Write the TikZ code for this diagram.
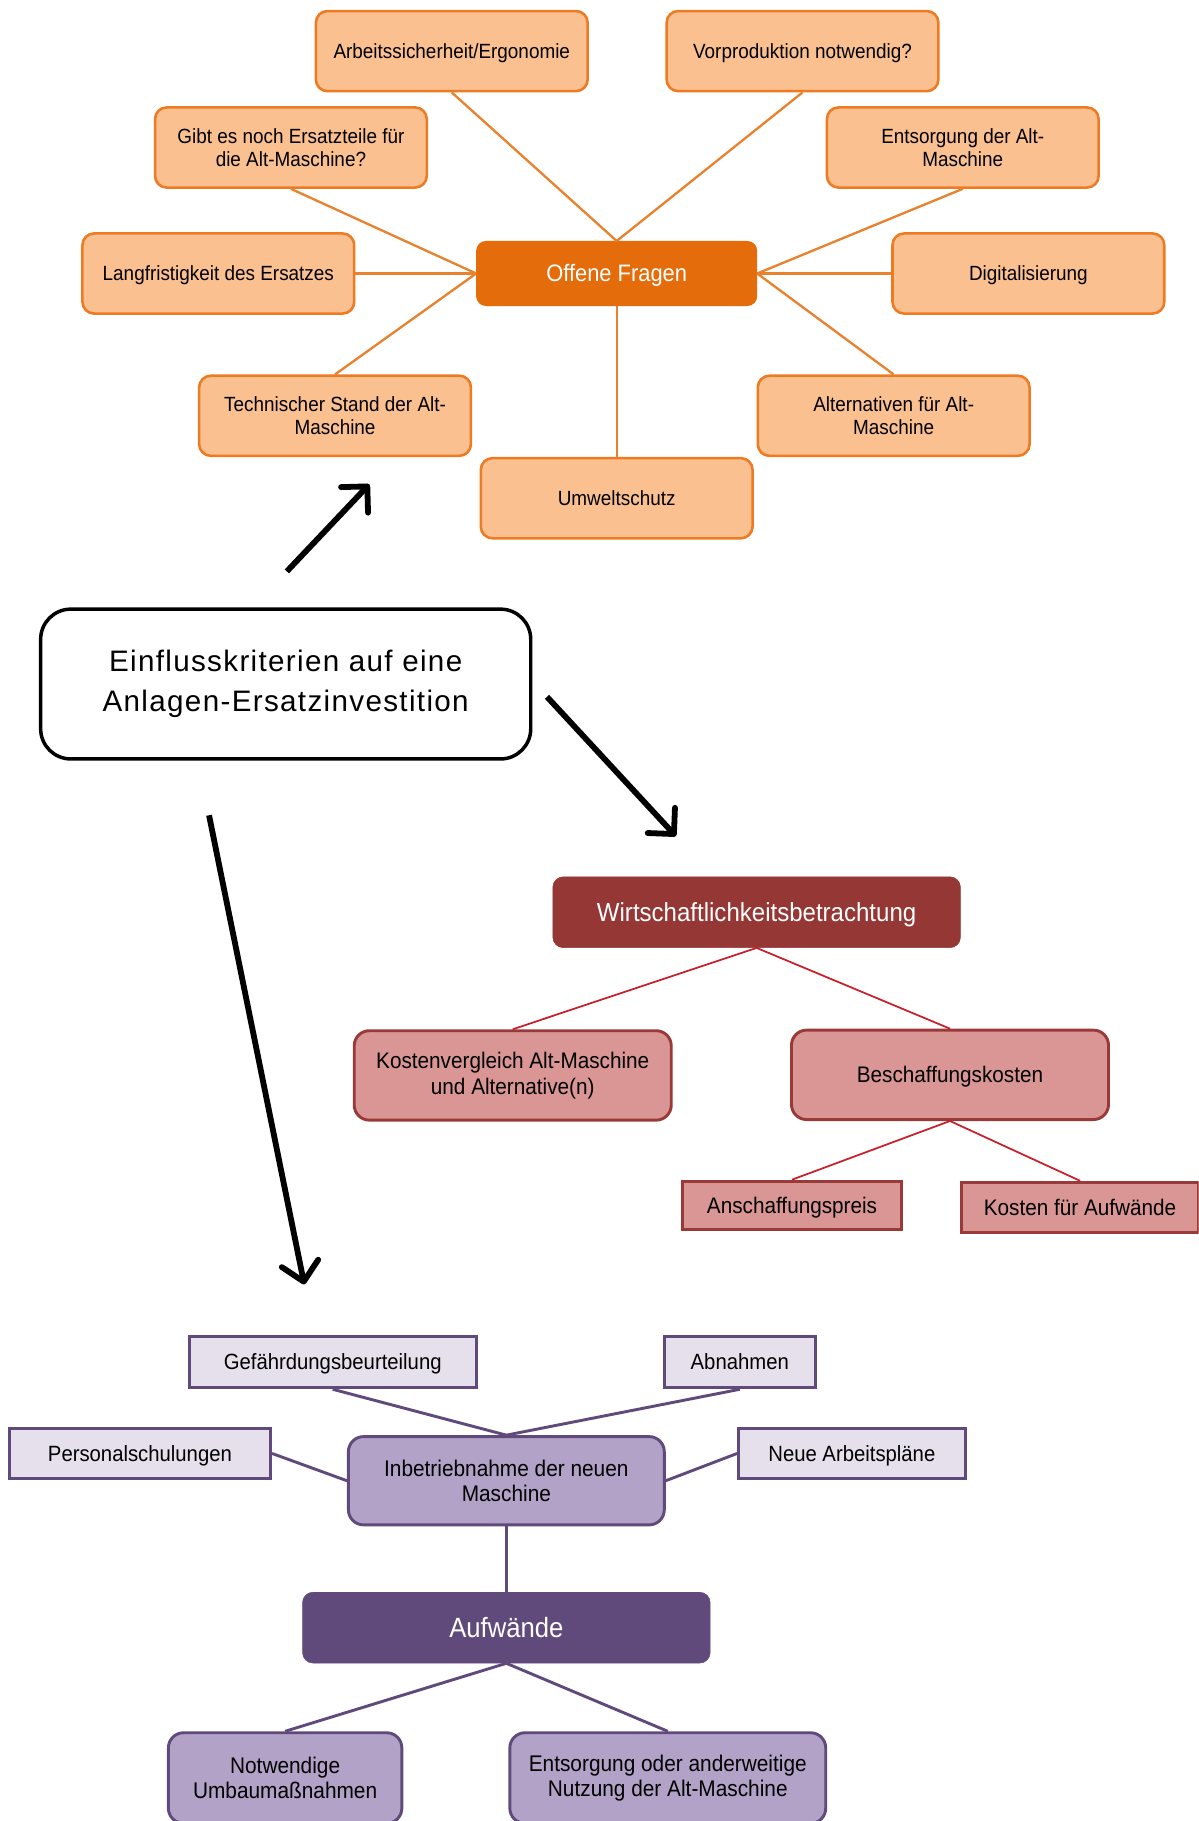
\documentclass[tikz,border=0pt]{standalone}
\usepackage{fontspec}
\setmainfont{Liberation Sans}
\newfontfamily\nar[FakeStretch=0.92]{Liberation Sans}
\newfontfamily\widefont[LetterSpace=4.5]{Liberation Sans}
\usetikzlibrary{arrows.meta}
\definecolor{olight}{HTML}{FAC090}
\definecolor{oborder}{HTML}{EE7B22}
\definecolor{odark}{HTML}{E46C0A}
\definecolor{oline}{HTML}{E8822E}
\definecolor{rdark}{HTML}{953735}
\definecolor{rlight}{HTML}{D99694}
\definecolor{rborder}{HTML}{9A3A38}
\definecolor{rline}{HTML}{C8202A}
\definecolor{pdark}{HTML}{604A7B}
\definecolor{pmid}{HTML}{B3A2C7}
\definecolor{plight}{HTML}{E6E0EC}
\tikzset{
  one/.style={execute at begin node={\rule[-0.212em]{0pt}{1.117em}}},
  obox/.style={draw=oborder, fill=olight, line width=2.2pt, rounded corners=10pt,
    minimum width=234pt, minimum height=69pt, inner sep=0pt, align=center,
    font=\nar\fontsize{17.7}{20}\selectfont},
  ocenter/.style={one, draw=odark, fill=odark, line width=1pt, rounded corners=8pt,
    minimum width=241pt, minimum height=55pt, inner sep=0pt, text=white,
    font=\nar\fontsize{20.5}{24}\selectfont},
  oconn/.style={draw=oline, line width=2pt},
  rbig/.style={one, draw=rdark, fill=rdark, rounded corners=9pt, minimum width=351pt,
    minimum height=61pt, inner sep=0pt, text=white, font=\nar\fontsize{22.5}{26}\selectfont},
  rmid/.style={draw=rborder, fill=rlight, line width=2.5pt, rounded corners=13pt,
    minimum width=273pt, minimum height=77pt, inner sep=0pt, align=center,
    font=\nar\fontsize{19.4}{22}\selectfont},
  rsmall/.style={one, draw=rborder, fill=rlight, line width=2.5pt, inner sep=0pt,
    minimum height=42pt, font=\nar\fontsize{19.4}{22}\selectfont},
  rconn/.style={draw=rline, line width=1.5pt},
  psmall/.style={one, draw=pdark, fill=plight, line width=2.5pt, inner sep=0pt,
    minimum height=43pt, font=\nar\fontsize{19}{22}\selectfont},
  pmidbox/.style={draw=pdark, fill=pmid, line width=2.5pt, rounded corners=13pt,
    inner sep=0pt, align=center, font=\nar\fontsize{19.5}{22}\selectfont},
  pbig/.style={one, draw=pdark, fill=pdark, rounded corners=9pt, minimum width=351pt,
    minimum height=61pt, inner sep=0pt, text=white, font=\nar\fontsize{24}{26}\selectfont},
  pconn/.style={draw=pdark, line width=2.5pt},
  bigarrow/.style={line width=5pt, -{Straight Barb[round, length=16pt, width=32pt]}},
}
\begin{document}
\begin{tikzpicture}[x=1pt,y=-1pt]
\clip (0,0) rectangle (1032,1568);
\fill[white] (0,0) rectangle (1032,1568);

% ---------- orange ----------
\node[ocenter] (off) at (531,235.5) {Offene Fragen};
\node[obox, one] (arb) at (389,44) {Arbeitssicherheit/Ergonomie};
\node[obox, one] (vor) at (691,44) {Vorproduktion notwendig?};
\node[obox] (gib) at (250.5,127) {Gibt es noch Ersatzteile für\\die Alt-Maschine?};
\node[obox] (ent) at (829,127) {Entsorgung der Alt-\\Maschine};
\node[obox, one] (lan) at (188,235.5) {Langfristigkeit des Ersatzes};
\node[obox, one] (dig) at (885.5,235.5) {Digitalisierung};
\node[obox] (tec) at (288.5,358) {Technischer Stand der Alt-\\Maschine};
\node[obox] (alt) at (769.5,358) {Alternativen für Alt-\\Maschine};
\node[obox, one] (umw) at (531,429) {Umweltschutz};

\draw[oconn] (arb.south) -- (off.north);
\draw[oconn] (vor.south) -- (off.north);
\draw[oconn] (gib.south) -- (off.west);
\draw[oconn] (lan.east) -- (off.west);
\draw[oconn] (tec.north) -- (off.west);
\draw[oconn] (ent.south) -- (off.east);
\draw[oconn] (dig.west) -- (off.east);
\draw[oconn] (alt.north) -- (off.east);
\draw[oconn] (umw.north) -- (off.south);

% ---------- central ----------
\node[draw=black, fill=white, line width=3pt, rounded corners=26pt,
  minimum width=422pt, minimum height=129pt, inner sep=0pt, align=center,
  font=\widefont\fontsize{25.5}{34}\selectfont] (ein) at (246,589)
  {Einflusskriterien auf eine\\Anlagen-Ersatzinvestition};

\coordinate (a1s) at (247,492);
\coordinate (a1e) at (318,417);
\coordinate (a2s) at (471,600);
\coordinate (a2e) at (582,720);
\coordinate (a3s) at (180,702);
\coordinate (a3e) at (262,1106);
\draw[bigarrow] (a1s) -- (a1e);
\draw[bigarrow] (a2s) -- (a2e);
\draw[bigarrow] (a3s) -- (a3e);

% ---------- red ----------
\node[rbig] (wir) at (651.5,785.5) {Wirtschaftlichkeitsbetrachtung};
\node[rmid] (kos) at (441.5,926) {Kostenvergleich Alt-Maschine\\und Alternative(n)};
\node[rmid, one] (bes) at (818,925.5) {Beschaffungskosten};
\node[rsmall, minimum width=188pt] (ans) at (682,1038) {Anschaffungspreis};
\node[rsmall, minimum width=204pt, minimum height=43pt] (kfa) at (930,1039.5) {Kosten für Aufwände};
\draw[rconn] (wir.south) -- (kos.north);
\draw[rconn] (wir.south) -- (bes.north);
\draw[rconn] (bes.south) -- (ans.north);
\draw[rconn] (bes.south) -- (kfa.north);

% ---------- purple ----------
\node[psmall, minimum width=247pt, minimum height=44pt] (gef) at (286.5,1173) {Gefährdungsbeurteilung};
\node[psmall, minimum width=130pt, minimum height=44pt] (abn) at (637,1173) {Abnahmen};
\node[psmall, minimum width=225pt] (per) at (120.5,1251.5) {Personalschulungen};
\node[psmall, minimum width=195pt] (neu) at (733.5,1251.5) {Neue Arbeitspläne};
\node[pmidbox, minimum width=272pt, minimum height=76pt] (inb) at (436,1275) {Inbetriebnahme der neuen\\Maschine};
\node[pbig] (auf) at (436,1401.5) {Aufwände};
\node[pmidbox, minimum width=201pt, minimum height=78pt] (not) at (245.5,1531) {Notwendige\\Umbaumaßnahmen};
\node[pmidbox, minimum width=272pt, minimum height=78pt] (eod) at (575,1531) {Entsorgung oder anderweitige\\Nutzung der Alt-Maschine};

\draw[pconn] (gef.south) -- (inb.north);
\draw[pconn] (abn.south) -- (inb.north);
\draw[pconn] (per.east) -- (inb.west);
\draw[pconn] (neu.west) -- (inb.east);
\draw[pconn] (inb.south) -- (auf.north);
\draw[pconn] (auf.south) -- (not.north);
\draw[pconn] (auf.south) -- (eod.north);
\end{tikzpicture}
\end{document}
